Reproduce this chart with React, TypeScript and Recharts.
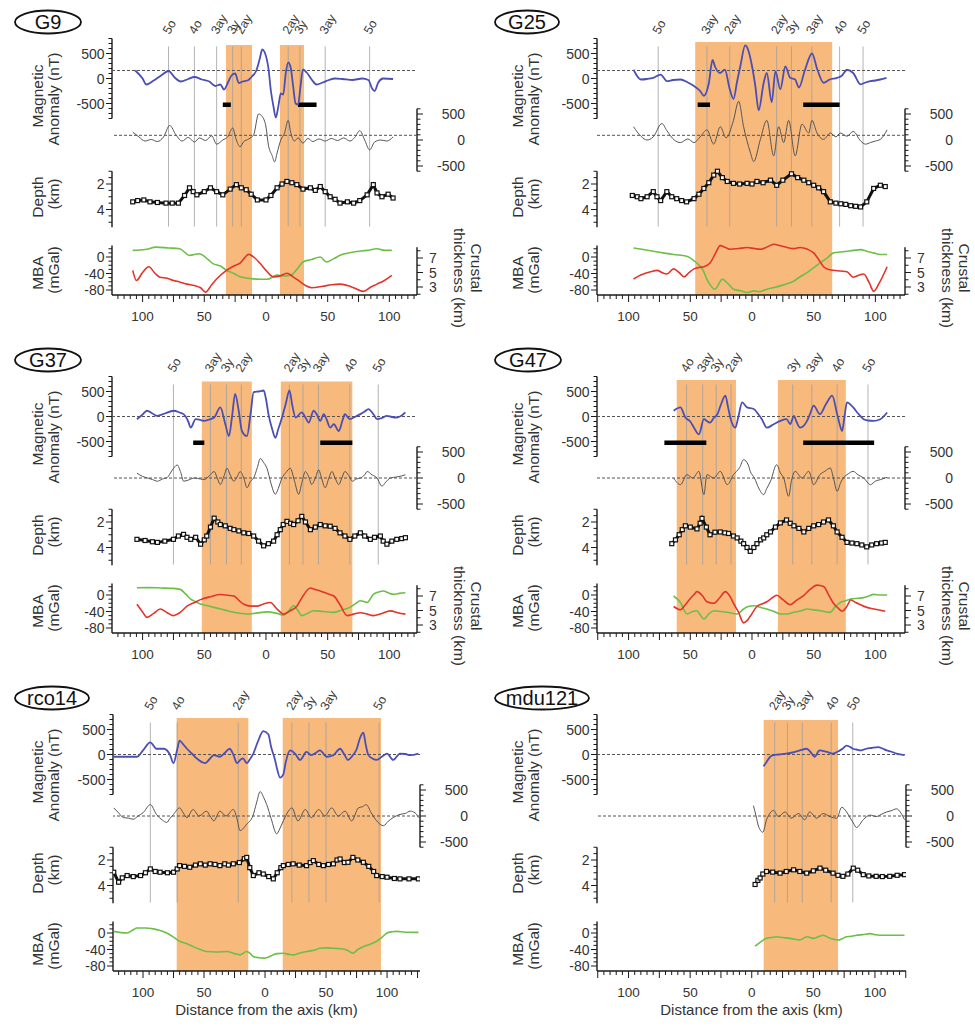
import React from 'react';
import { ComposedChart, Line, XAxis, YAxis, ReferenceLine, ReferenceArea } from 'recharts';

type Pair = [number, number];
type Iso = [string, number];

// ---------------- G9 ----------------
const g9Mag: Pair[] = [[-106,160],[-100,0],[-97,-120],[-91,-40],[-85,60],[-79,150],[-74,20],[-69,-60],[-63,-10],[-58,30],[-52,-20],[-46,-60],[-41,-150],[-37,-120],[-34,-220],[-31,-90],[-28,60],[-25,100],[-22,-90],[-19,-60],[-15,-40],[-11,50],[-8,150],[-5,400],[-3,580],[-1,520],[2,200],[4,-250],[6,-550],[8,-780],[10,-560],[12,-300],[14,-320],[16,100],[18,320],[20,220],[22,-150],[24,-500],[26,-520],[28,-150],[30,180],[33,120],[37,-20],[41,-120],[46,-80],[51,-30],[56,0],[62,-10],[70,-30],[78,0],[83,-30],[86,-200],[88,-250],[91,-80],[95,0],[103,-10]];
const g9Mag2: Pair[] = [[-108,150],[-103,60],[-98,-20],[-93,10],[-88,-30],[-83,60],[-78,280],[-73,100],[-68,-20],[-63,50],[-58,-40],[-54,40],[-49,-10],[-44,80],[-40,-80],[-35,0],[-31,60],[-27,230],[-24,0],[-21,-130],[-18,-30],[-14,20],[-10,100],[-6,500],[-3,450],[0,250],[2,-100],[5,-300],[7,-420],[9,-250],[12,0],[15,130],[18,380],[20,150],[23,-20],[26,40],[30,-60],[34,30],[38,-30],[43,20],[48,-20],[53,30],[58,-10],[63,40],[68,-20],[72,50],[76,180],[80,0],[84,-190],[88,-40],[93,0],[98,-20],[103,60]];
const g9Depth: Pair[] = [[-108,3.4],[-104,3.3],[-99,3.25],[-94,3.4],[-88,3.45],[-81,3.5],[-76,3.5],[-71,3.5],[-66,2.9],[-62,2.3],[-59,2.6],[-56,2.85],[-50,2.6],[-45,2.3],[-40,2.6],[-35,2.85],[-29,2.4],[-24,2.05],[-20,2.3],[-16,2.45],[-12,2.8],[-7,3.25],[0,3.25],[4,2.9],[9,2.3],[13,2.0],[17,1.8],[21,1.9],[25,2.05],[30,2.4],[36,2.3],[40,2.5],[44,2.2],[48,2.6],[52,3.0],[56,3.2],[60,3.5],[66,3.4],[71,3.5],[76,3.3],[82,2.85],[87,2.05],[90,2.7],[94,3.0],[99,2.8],[103,3.1]];
const g9Mba: Pair[] = [[-108,16],[-98,18],[-89,24],[-79,22],[-70,20],[-62,4],[-54,8],[-47,-6],[-43,-16],[-37,-22],[-32,-32],[-26,-40],[-21,-48],[-13,-52],[-5,-54],[1,-54],[9,-44],[14,-46],[20,-44],[25,-30],[30,-12],[37,-6],[44,0],[49,-12],[55,-4],[60,4],[71,12],[82,16],[90,20],[96,16],[102,16]];
const g9Crust: Pair[] = [[-108,5.3],[-105,3.9],[-100,5.0],[-95,5.8],[-90,4.9],[-86,4.35],[-80,4.2],[-75,3.9],[-70,3.7],[-64,3.4],[-58,3.2],[-53,2.9],[-49,2.3],[-44,3.3],[-40,4.1],[-32,5.3],[-26,5.9],[-21,6.3],[-14,7.5],[-9,7.0],[-5,6.3],[0,5.3],[6,4.4],[11,4.5],[17,4.9],[22,4.4],[27,3.8],[32,3.2],[37,2.9],[46,3.1],[53,3.3],[60,3.4],[66,3.2],[71,2.9],[79,2.4],[85,3.0],[90,3.4],[96,3.9],[102,4.6]];
const g9Isochrons: Iso[] = [['5o',-79],['4o',-58],['3ay',-40],['3y',-27],['2ay',-20],['2ay',18],['3y',27.5],['3ay',48],['5o',84]];
const g9Orange: Pair[] = [[-32.4,-11.3],[11.3,30.8]];
const g9Bars: Pair[] = [[-35,-28.5],[26,41]];
const g9Baselines: Pair = [160, 90];

// ---------------- G25 ----------------
const g25Mag: Pair[] = [[-96,175],[-90,-20],[-85,-10],[-80,13],[-74,78],[-69,-52],[-64,-30],[-58,-20],[-52,-80],[-47,-150],[-42,-250],[-39,-345],[-35,-100],[-32,370],[-30,240],[-26,110],[-22,175],[-18,-215],[-15,-410],[-12,-50],[-9.5,240],[-5.5,663],[-3,565],[0,250],[2.7,-150],[5.4,-637],[9.5,-85],[12,110],[16,-475],[19,143],[23,-215],[27,240],[31,13],[35,-20],[38,-180],[43,175],[48.6,500],[53,175],[58,-85],[63,-20],[69,13],[73,60],[77,175],[82,110],[88,-117],[92,-80],[96,-52],[100,-40],[104,-20],[109,13]];
const g25Mag2: Pair[] = [[-96,256],[-90,73],[-85,0],[-80,60],[-73,317],[-69,180],[-63,0],[-58,-49],[-52,20],[-47,-49],[-42,60],[-36.5,195],[-31,-79],[-25.7,256],[-21,40],[-15,378],[-10.8,744],[-6.8,256],[-1.4,-232],[1.4,-415],[6.8,12],[12,378],[17.6,-305],[21.6,256],[25.7,-49],[29.7,378],[35,-305],[40.5,305],[46,134],[48.6,378],[52.7,134],[58,12],[63.5,134],[68,60],[71.6,134],[77,73],[82,165],[88,-18],[92,-80],[96,-49],[100,-20],[104,12],[109.5,195]];
const g25Depth: Pair[] = [[-97,2.9],[-93,3.0],[-90,3.15],[-85,3.0],[-80,2.6],[-77,3.0],[-74,3.3],[-69,2.6],[-65,3.0],[-61,3.15],[-57,3.3],[-53,3.4],[-47,3.15],[-43,2.8],[-39,2.35],[-35,1.9],[-31,1.3],[-28,1.0],[-24,1.5],[-20,1.8],[-15,1.95],[-10,2.0],[-4,1.95],[0,2.0],[4,1.8],[9,1.9],[15,1.7],[20,2.1],[25,1.7],[32,1.2],[37,1.5],[42,1.7],[46,1.9],[50,2.1],[54,2.3],[58,2.6],[63.5,3.4],[68,3.5],[72,3.55],[76,3.6],[80,3.7],[84,3.75],[88,3.8],[93,3.4],[98.6,2.35],[104,2.1],[108,2.2]];
const g25Mba: Pair[] = [[-96,22],[-88,18],[-80,14],[-72,10],[-63.5,6],[-53,2],[-45,-14],[-40,-30],[-36.5,-54],[-30,-78],[-24,-54],[-19,-66],[-15,-78],[-9,-82],[-4,-86],[1.4,-82],[6,-84],[12,-78],[18,-74],[23,-70],[29,-64],[34,-58],[39,-48],[44.6,-38],[50,-26],[55.4,-14],[61,-2],[66,10],[72,12],[77,14],[82,16],[88,18],[93,14],[98.6,10],[104,6],[109.5,6]];
const g25Crust: Pair[] = [[-96,4.1],[-92,4.5],[-88,4.8],[-82,5.1],[-77,5.3],[-73,5.0],[-69,4.8],[-63.5,5.5],[-59,5.0],[-55,4.4],[-51,5.0],[-47,5.5],[-43,5.7],[-39,5.8],[-34,6.3],[-30,7.5],[-25.7,8.7],[-21,8.4],[-17.6,8.2],[-11,8.3],[-4,8.45],[2,8.3],[6.8,8.2],[12,8.5],[17.6,8.9],[23,8.7],[28.4,8.45],[34,8.3],[39,8.45],[45,8.2],[50,7.7],[54,6.8],[58,5.8],[62,5.4],[66,5.3],[72,5.2],[77,5.1],[82,4.35],[86,4.6],[90.5,4.8],[95,3.6],[98.6,2.4],[103,3.5],[109.5,5.8]];
const g25Isochrons: Iso[] = [['5o',-76],['3ay',-36.5],['2ay',-18],['2ay',20],['3y',32],['3ay',48.5],['4o',71],['5o',90]];
const g25Orange: Pair[] = [[-46,65]];
const g25Bars: Pair[] = [[-44,-34],[41.5,71]];
const g25Baselines: Pair = [160, 90];

// ---------------- G37 ----------------
const g37Mag: Pair[] = [[-104.6,-54],[-100,40],[-96.5,115],[-92,60],[-88,14],[-82,60],[-75,115],[-70,80],[-66.8,47],[-63,-100],[-61,-223],[-57,-54],[-53,-70],[-50.5,-88],[-46,-60],[-42,-20],[-37,182],[-33,-150],[-30,-392],[-27.5,0],[-25,453],[-22,100],[-19.5,-290],[-15.4,-392],[-12.5,50],[-10,487],[-6,500],[-1.9,520],[0,350],[2,47],[5,-250],[7.6,-426],[10,-250],[13,-20],[16,250],[19,520],[21.5,200],[24,-20],[29,81],[32,-20],[34.6,-122],[38.6,115],[41,50],[44,-88],[46.8,47],[49,-50],[52,-223],[55,-155],[59,-290],[62,-80],[64,47],[68,-54],[72,-10],[76.5,47],[80,100],[83,149],[87,50],[90,-54],[94,-30],[98,14],[102,-10],[106,-20],[110,20],[113,81]];
const g37Mag2: Pair[] = [[-104.6,94],[-100,30],[-96,0],[-92,-30],[-88,-62],[-84,-20],[-80,10],[-76,150],[-72,250],[-69,100],[-66.8,-62],[-63,-40],[-58,0],[-53,-20],[-50,-30],[-46,40],[-42,125],[-39.5,0],[-37,-125],[-34,40],[-31.6,187],[-29,60],[-26,-62],[-23,40],[-21,125],[-18,0],[-15.4,-187],[-12.5,-60],[-10,0],[-7,200],[-4.6,375],[-2,300],[0.8,187],[4,-100],[7.6,-312],[10,-200],[13,0],[16,100],[19.7,187],[23,-50],[26.5,-312],[29,-100],[31.9,125],[35,0],[37,-125],[40,0],[42.7,156],[45,0],[48,-187],[51,0],[53.5,125],[56,0],[59,-125],[61.5,0],[64,125],[67,50],[70,-62],[73,-20],[76.5,0],[80,60],[82,125],[86,60],[90,0],[94,-156],[97,-80],[100.8,0],[106,20],[110,40],[113,62]];
const g37Depth: Pair[] = [[-104.6,3.36],[-98,3.45],[-92,3.55],[-88,3.6],[-82,3.5],[-75,3.36],[-71,3.1],[-66.8,2.97],[-64,3.2],[-61,3.36],[-57,3.2],[-53,3.74],[-50,3.4],[-48,3.1],[-45,2.4],[-42,1.7],[-39,2.0],[-37,2.2],[-33,2.3],[-29,2.5],[-26,2.6],[-22,2.7],[-18,2.85],[-14,2.9],[-10,3.1],[-6,3.5],[-1.9,3.87],[2,3.7],[6.2,3.5],[9,3.0],[11.6,2.6],[14,2.2],[17,1.95],[20,2.1],[22.4,2.2],[26,1.9],[29,1.56],[32,2.0],[36,2.6],[40,2.4],[44,2.2],[48,2.3],[52,2.33],[56,2.5],[60,2.85],[64,3.1],[68,3.36],[72,3.1],[76.5,2.85],[80,3.1],[84.6,3.36],[88,3.2],[92.7,3.1],[95,3.5],[98,3.74],[102,3.5],[106,3.36],[110,3.3],[113,3.23]];
const g37Mba: Pair[] = [[-104.6,17.6],[-95,18],[-85,17],[-75,16],[-69.5,13.6],[-65,2],[-61,-10],[-57,-16],[-53,-22],[-47,-26],[-42,-30],[-34,-36],[-26,-42],[-20,-45],[-15.4,-46],[-8,-44],[0.8,-41],[8,-44],[14.3,-49],[18,-40],[22.4,-26],[26,-38],[29,-50],[34,-44],[38.6,-38],[46,-40],[55,-42],[62,-36],[68,-30],[72,-22],[76.5,-14],[82,-18],[87,1.6],[92,8],[95,9.6],[100,4],[103.5,1.6],[108,4],[113,5.6]];
const g37Crust: Pair[] = [[-104.6,5.86],[-100,4.8],[-96.5,4.05],[-91,4.6],[-85.7,5.2],[-80,4.7],[-75,4.3],[-69,4.8],[-64,5.6],[-58,6.1],[-53,6.5],[-45,6.9],[-37,7.2],[-31,7.1],[-26,7.0],[-22,6.4],[-18,5.86],[-12,5.6],[-7.3,5.6],[-2,5.9],[3.5,6.1],[9,5.2],[14.3,4.5],[19,4.9],[25,5.6],[30,7.0],[36,8.1],[40,7.9],[44,7.7],[50,7.3],[55,7.0],[60,5.8],[65.7,4.3],[71,4.5],[76.5,4.7],[82,4.5],[87,4.3],[94,4.6],[100.8,4.95],[107,4.7],[113,4.5]];
const g37Isochrons: Iso[] = [['5o',-75],['3ay',-45],['3y',-32],['2ay',-20],['2ay',19],['3y',30],['3ay',42.5],['4o',68],['5o',91]];
const g37Orange: Pair[] = [[-52,-11.5],[12,70]];
const g37Bars: Pair[] = [[-59,-50],[44,70]];
const g37Baselines: Pair = [0, 0];

// ---------------- G47 ----------------
const g47Mag: Pair[] = [[-63.5,115],[-58,182],[-54,-20],[-50,-100],[-47,-223],[-43,-358],[-39,-54],[-36,-100],[-34,-122],[-31,-30],[-28,47],[-25,250],[-21.6,419],[-19.5,200],[-17.6,-20],[-13.5,-223],[-11,0],[-8,284],[-4,182],[1.4,149],[5,50],[8,-54],[12,-223],[17.6,-155],[23,-88],[28,-54],[31,-150],[34,14],[36,-100],[39,-223],[44.6,-88],[47,50],[50,216],[55,47],[60,250],[65,419],[69,47],[71,-150],[73,-290],[75,0],[77,284],[82,182],[86,60],[90.5,-54],[94,-80],[98.6,-88],[104,-54],[109.5,81]];
const g47Mag2: Pair[] = [[-63.5,0],[-58,-128],[-52.7,64],[-48,0],[-43,128],[-39,-320],[-36.5,64],[-31,0],[-25.7,128],[-20,-128],[-15,64],[-10,200],[-6.8,352],[-3,250],[-1.4,128],[2,0],[5.4,-192],[9.5,-320],[12,-200],[15,-64],[20,256],[23,100],[25.7,0],[29.7,-352],[32,-50],[35,128],[40.5,0],[46,128],[50,-128],[55,64],[59,128],[63.5,192],[66,0],[69,-256],[72,-80],[74,0],[78,80],[82,128],[86,60],[90.5,0],[96,-128],[100,-60],[104,-32],[109.5,13]];
const g47Depth: Pair[] = [[-65,3.7],[-62,3.4],[-59,3.0],[-56.5,2.6],[-54,2.3],[-50,2.4],[-44.6,2.54],[-42,2.1],[-40.5,1.72],[-37,2.4],[-34,3.0],[-30,2.8],[-25.7,2.78],[-22,2.85],[-19,2.9],[-15,3.1],[-12,3.25],[-9,3.5],[-6.8,3.7],[-4,4.0],[-1.4,4.3],[1.5,4.0],[4,3.7],[7,3.4],[9.5,3.25],[12,3.0],[15,2.78],[19,2.4],[23,2.07],[28,1.84],[31,2.1],[34,2.3],[38,2.5],[42,2.78],[46,2.5],[50,2.3],[54,2.2],[58,2.0],[62,1.84],[66,2.3],[69,2.78],[73,3.2],[77,3.6],[81,3.65],[85,3.7],[89,3.8],[93,3.95],[97,3.8],[101,3.7],[105,3.65],[108,3.6]];
const g47Mba: Pair[] = [[-63.5,-2.4],[-58,-18],[-52.7,-46],[-48,-40],[-44.6,-38],[-42,-48],[-39,-58],[-35,-46],[-31,-38],[-25,-40],[-20,-42],[-12,-46],[-6.8,-34],[-3,-28],[1.4,-26],[7,-30],[12,-34],[18,-40],[23,-46],[28,-46],[34,-42],[40,-38],[44.6,-34],[50,-36],[55.4,-38],[63.5,-42],[67,-30],[71.6,-18],[76,-14],[80,-10],[86,-8],[90.5,-6.4],[95,-2],[98.6,1.6],[104,0],[109.5,0]];
const g47Crust: Pair[] = [[-63.5,5.55],[-58,5.1],[-54,5.8],[-51,6.45],[-47,7.2],[-44.6,7.6],[-40,7.0],[-36.5,6.2],[-31,6.0],[-26,6.8],[-21.6,7.6],[-18,7.0],[-15,6.0],[-11,4.8],[-6.8,3.3],[-4,3.6],[-1.4,4.2],[4,5.55],[8,5.9],[12,6.2],[16,6.7],[20,7.1],[25,6.5],[31,5.8],[36,6.4],[42,7.1],[47,7.9],[52.7,8.5],[58,8.3],[62,7.2],[66,6.0],[70,5.3],[73,4.9],[77,5.6],[80,6.45],[84,6.1],[88,5.8],[92,5.5],[96,5.3],[102,5.1],[108,4.9]];
const g47Isochrons: Iso[] = [['4o',-53],['3ay',-40],['3y',-29],['2ay',-17],['3y',33],['3ay',48.5],['4o',69],['5o',94]];
const g47Orange: Pair[] = [[-61,-13],[21,76]];
const g47Bars: Pair[] = [[-71,-37],[41.5,99]];
const g47Baselines: Pair = [0, 0];

// ---------------- rco14 ----------------
const rco14Mag: Pair[] = [[-124,-45],[-115,-45],[-105,-45],[-100,83],[-94,244],[-89,115],[-83,115],[-78,0],[-75,-173],[-72,100],[-70,276],[-67,200],[-64,115],[-60,20],[-56,-77],[-49,-173],[-45,-80],[-42,-13],[-37,-45],[-33,30],[-29,115],[-26,0],[-23,-173],[-20,-100],[-18,-77],[-15,-173],[-12,-80],[-9.6,19],[-6,250],[-1.4,468],[2.7,404],[5,150],[8.2,-109],[10,-300],[12.3,-461],[15,-397],[17,-150],[20.5,83],[24.6,19],[28.7,-109],[34,51],[38,-13],[42,40],[45,83],[50.5,-45],[56,-13],[61.5,115],[65,0],[68,-109],[72,-13],[75,100],[78,340],[80.6,436],[82.5,200],[84.7,-13],[88,-80],[91.5,-109],[96,-40],[100,19],[105,-109],[110.6,19],[115,10],[119,-13],[125.7,19]];
const rco14Mag2: Pair[] = [[-124,156],[-120,60],[-116,-31],[-112,-40],[-108,-62],[-104,0],[-100,62],[-94,219],[-89,31],[-84,-80],[-80.6,-125],[-78,-50],[-75,31],[-70,156],[-67,60],[-64,-31],[-59,125],[-54,0],[-48,94],[-45,0],[-42,-94],[-37,94],[-32,0],[-26,125],[-23,-50],[-20.5,-281],[-15,-156],[-10,0],[-7,250],[-4,469],[-1,350],[1.4,219],[5,-50],[9.6,-344],[12,-250],[15,-94],[18,50],[22,156],[27,-94],[33,125],[38,-31],[44,125],[49,0],[54.6,156],[60,0],[65.6,94],[71,-94],[76.5,156],[80,180],[83,219],[87,60],[91.5,-94],[97,-187],[101,-100],[105,-31],[110.6,31],[115,50],[119,94],[123,60],[125.7,-31]];
const rco14Depth: Pair[] = [[-124,2.96],[-120,3.74],[-117,3.4],[-113,3.22],[-108,3.3],[-102,3.22],[-98,3.0],[-94,2.7],[-90,2.9],[-86,2.96],[-80,3.0],[-75,2.96],[-72,2.7],[-70,2.44],[-66,2.5],[-61.7,2.57],[-57,2.4],[-53,2.3],[-49,2.4],[-45,2.3],[-41,2.35],[-37,2.44],[-33,2.3],[-30,2.4],[-26,2.3],[-21,2.2],[-17,1.9],[-15,1.8],[-12.5,2.6],[-9.6,3.22],[-5,3.0],[-1.4,3.1],[3,3.3],[6.8,3.48],[10,3.0],[13,2.6],[15,2.44],[19,2.35],[23,2.3],[28,2.4],[34,2.44],[37,2.2],[39.6,2.05],[44,2.35],[47.8,2.44],[52,2.35],[56,2.3],[59,2.0],[61.5,1.92],[65,2.2],[68,2.18],[72,1.8],[76,2.0],[80.6,2.18],[85,2.5],[89,2.9],[91.5,3.22],[96,3.3],[100,3.35],[106,3.45],[110.6,3.48],[118,3.48],[125.7,3.48]];
const rco14Mba: Pair[] = [[-124,4],[-118,1],[-113,0],[-108,8],[-105,12],[-98,12],[-91.5,10],[-86,6],[-80.6,0],[-75,-10],[-70,-20],[-64,-26],[-59,-33],[-53,-40],[-48,-45],[-40,-46],[-31,-45],[-25,-50],[-20.5,-53],[-15,-45],[-12,-50],[-9.6,-57],[-5,-60],[-1.4,-61],[3,-58],[6.8,-53],[10,-50],[15,-49],[20,-52],[23,-53],[28,-49],[34,-45],[40,-42],[45,-37],[50,-36],[56,-37],[62,-38],[67,-41],[72,-49],[76,-40],[80.6,-33],[86,-27],[91.5,-20],[96,-10],[100,0],[104,3],[108,4],[115,2],[125.7,1.6]];
const rco14Isochrons: Iso[] = [['5o',-94],['4o',-72],['2ay',-22],['2ay',22],['3y',36],['3ay',50],['5o',93.5]];
const rco14Orange: Pair[] = [[-72.4,-13.7],[14.5,95]];
const rco14Bars: Pair[] = [];
const rco14Baselines: Pair = [0, 0];

// ---------------- mdu121 ----------------
const mdu121Mag: Pair[] = [[9.5,-237],[12,-150],[15,-45],[17.6,-13],[22,0],[28,19],[33,40],[39,83],[44.6,115],[48,40],[51,-45],[55,83],[61,51],[66,19],[71.6,83],[74,120],[77,179],[80,150],[82,115],[85,100],[88,83],[91,100],[93,115],[97,130],[102.7,147],[106,120],[109.5,83],[113,60],[117.6,19],[124,-13]];
const mdu121Mag2: Pair[] = [[1.4,198],[3.5,0],[5.4,-192],[9,-312],[12,-72],[15,60],[17.6,108],[21.6,-12],[27,78],[32,-42],[38,48],[43,-72],[47,78],[52.7,-42],[58,48],[63.5,-12],[69,-42],[73,168],[77,78],[80,-40],[82.4,-132],[85,-222],[90.5,-72],[96,18],[101,-12],[105,30],[109.5,78],[113,100],[117.6,138],[121,60],[124,-72]];
const mdu121Depth: Pair[] = [[2.7,3.92],[5,3.6],[6.8,3.41],[9,3.1],[12,2.9],[17,2.95],[23,3.03],[28,2.9],[34,2.77],[39,2.9],[44.6,3.03],[50,2.85],[55.4,2.64],[60,2.8],[66,3.03],[70,3.2],[74,3.28],[78,3.1],[82.4,2.64],[86,2.8],[90.5,3.15],[95,3.25],[101,3.28],[106,3.3],[112,3.28],[118,3.2],[124,3.15]];
const mdu121Mba: Pair[] = [[2.7,-32],[7,-22],[12,-13],[16,-11],[20,-9],[25,-11],[31,-13],[35,-15],[39,-17],[44.6,-9],[50,-13],[54,-9],[58,-5.4],[63.5,-13],[70,-17],[74,-13],[77,-9],[81,-8],[85,-5.4],[90,-4],[96,-1.5],[100,-4],[104,-5.4],[112,-5.4],[124,-5.4]];
const mdu121Isochrons: Iso[] = [['2ay',18.6],['3y',29],['3ay',41],['4o',64.5],['5o',82]];
const mdu121Orange: Pair[] = [[9.7,70]];
const mdu121Bars: Pair[] = [];
const mdu121Baselines: Pair = [0, 0];

// ---------------- axis tick labels ----------------
const magTickLabels = [-500, 0, 500];
const magTicks = [-800, -700, -600, -500, -400, -300, -200, -100, 0, 100, 200, 300, 400, 500, 600, 700, 800];
const mag2Ticks = [-600, -500, -400, -300, -200, -100, 0, 100, 200, 300, 400, 500, 600];
const depthTickLabels = [2, 4];
const depthTicks = [1, 1.5, 2, 2.5, 3, 3.5, 4, 4.5, 5];
const mbaTickLabels = [-80, -40, 0];
const mbaTicks = [-80, -70, -60, -50, -40, -30, -20, -10, 0, 10, 20];
const crustTickLabels = [3, 5, 7];
const crustTicks = [2, 3, 4, 5, 6, 7, 8];
const distanceTickLabels = [-100, -50, 0, 50, 100];
const distanceTicks: number[] = [];
for (let t = -125; t <= 125; t += 5) distanceTicks.push(t);

// ---------------- geometry ----------------
const FONT = '"Liberation Sans", Arial, Helvetica, sans-serif';
const TOP = 37;
const BOTTOM = 295;
const AXW = 0.01;
const domainFor = (vRef: number, pRef: number, pxPerUnit: number): [number, number] =>
  [vRef - (BOTTOM - pRef) / pxPerUnit, vRef + (pRef - TOP) / pxPerUnit];
const MAG_DOMAIN = domainFor(0, 78.5, 0.05);
const MAG2_DOMAIN = domainFor(0, 140, 0.052);
const MBA_DOMAIN = domainFor(0, 257, 33 / 80);
const CRUST_DOMAIN = domainFor(7, 258, 7.25);
const DEPTH_DOMAIN: [number, number] = [2 - (184 - TOP) / 12.75, 2 + (BOTTOM - 184) / 12.75];

const pts = (a: Pair[]) => a.map(([x, v]) => ({ x, v }));

const makeYTick = (side: 'left' | 'right', labels: number[], labelOffset: number, anchor: 'start' | 'end') => (p: any) => {
  const { x, y, payload } = p;
  const v = payload.value;
  const major = labels.some((l) => Math.abs(l - v) < 1e-6);
  const len = major ? 6 : 3.5;
  const dir = side === 'left' ? -1 : 1;
  return (
    <g>
      <line x1={x} x2={x + dir * len} y1={y} y2={y} stroke="#1a1a1a" strokeWidth={1} />
      {major && (
        <text x={x + dir * labelOffset} y={y} dy="0.36em" textAnchor={anchor}
          fontSize={14} fill="#333" fontFamily={FONT}>{v}</text>
      )}
    </g>
  );
};

const renderXTick = (p: any) => {
  const { x, y, payload } = p;
  const v = payload.value;
  const major = v % 25 === 0;
  const lab = distanceTickLabels.indexOf(v) >= 0;
  return (
    <g>
      <line x1={x} x2={x} y1={y} y2={y + (major ? 7 : 4)} stroke="#1a1a1a" strokeWidth={1} />
      {lab && (
        <text x={x} y={y + 25.5} textAnchor="middle" fontSize={13.5} fill="#333" fontFamily={FONT}>{Math.abs(v)}</text>
      )}
    </g>
  );
};

const squareDot = (p: any) => (
  <rect key={`sq${p.index}`} x={p.cx - 2} y={p.cy - 2} width={4} height={4} fill="#fff" stroke="#111" strokeWidth={1.2} />
);

const vText = (x: number, y: number, rot: number, s: string) => (
  <text x={x} y={y} transform={`rotate(${rot} ${x} ${y})`} textAnchor="middle" fontSize={15.5} fill="#333" fontFamily={FONT}>{s}</text>
);

type PanelCfg = {
  name: string; left: number; top: number; width: number; height: number; ml: number; plotW: number;
  xDomain: [number, number]; ellRx: number; mag: Pair[]; mag2: Pair[]; depth: Pair[]; mba: Pair[]; crust: Pair[] | null;
  iso: Iso[]; orange: Pair[]; bars: Pair[]; orangeTop: number; base: Pair; distance: boolean;
};

const panels: PanelCfg[] = [
  { name: 'G9', left: 0, top: 0, width: 495, height: 338, ml: 112, plotW: 305, xDomain: [-124.8, 122.4], ellRx: 33,
    mag: g9Mag, mag2: g9Mag2, depth: g9Depth, mba: g9Mba, crust: g9Crust, iso: g9Isochrons, orange: g9Orange, bars: g9Bars, orangeTop: 670, base: g9Baselines, distance: false },
  { name: 'G25', left: 480, top: 0, width: 495, height: 338, ml: 117, plotW: 308, xDomain: [-125.6, 124], ellRx: 32,
    mag: g25Mag, mag2: g25Mag2, depth: g25Depth, mba: g25Mba, crust: g25Crust, iso: g25Isochrons, orange: g25Orange, bars: g25Bars, orangeTop: 730, base: g25Baselines, distance: false },
  { name: 'G37', left: 0, top: 338, width: 495, height: 338, ml: 112, plotW: 305, xDomain: [-124.8, 122.4], ellRx: 33,
    mag: g37Mag, mag2: g37Mag2, depth: g37Depth, mba: g37Mba, crust: g37Crust, iso: g37Isochrons, orange: g37Orange, bars: g37Bars, orangeTop: 700, base: g37Baselines, distance: false },
  { name: 'G47', left: 480, top: 338, width: 495, height: 338, ml: 117, plotW: 308, xDomain: [-125.6, 124], ellRx: 33,
    mag: g47Mag, mag2: g47Mag2, depth: g47Depth, mba: g47Mba, crust: g47Crust, iso: g47Isochrons, orange: g47Orange, bars: g47Bars, orangeTop: 730, base: g47Baselines, distance: false },
  { name: 'rco14', left: 0, top: 676, width: 495, height: 351, ml: 113, plotW: 307, xDomain: [-124.6, 127], ellRx: 37,
    mag: rco14Mag, mag2: rco14Mag2, depth: rco14Depth, mba: rco14Mba, crust: null, iso: rco14Isochrons, orange: rco14Orange, bars: rco14Bars, orangeTop: 730, base: rco14Baselines, distance: true },
  { name: 'mdu121', left: 480, top: 676, width: 495, height: 351, ml: 117, plotW: 309, xDomain: [-125.6, 125.2], ellRx: 47,
    mag: mdu121Mag, mag2: mdu121Mag2, depth: mdu121Depth, mba: mdu121Mba, crust: null, iso: mdu121Isochrons, orange: mdu121Orange, bars: mdu121Bars, orangeTop: 690, base: mdu121Baselines, distance: true },
];

function Panel({ cfg }: { cfg: PanelCfg }) {
  const { width, height, ml, plotW, xDomain } = cfg;
  const [x0, x1] = xDomain;
  const plotRight = ml + plotW;
  const nRight = cfg.crust ? 2 : 1;
  const ticksX = distanceTicks.filter((t) => t >= x0 - 1e-9 && t <= x1 + 1e-9);
  const axisStroke = '#1a1a1a';
  const isoTick = (p: any) => {
    const v = p.payload.value;
    const it = cfg.iso.find((i) => Math.abs(i[1] - v) < 1e-6);
    const tx = p.x + 1;
    const ty = 35;
    return (
      <text x={tx} y={ty} transform={`rotate(-60 ${tx} ${ty})`} fontSize={12.5} fill="#3a3a3a" fontFamily={FONT}>{it ? it[0] : ''}</text>
    );
  };
  const magLabel = () => (
    <g>
      <ellipse cx={15 + cfg.ellRx} cy={22} rx={cfg.ellRx} ry={11.5} fill="none" stroke="#111" strokeWidth={1.8} />
      <text x={15 + cfg.ellRx} y={29} textAnchor="middle" fontSize={20} fill="#111" fontFamily={FONT}>{cfg.name}</text>
      {vText(42.5, 96, -90, 'Magnetic')}
      {vText(59, 99, -90, 'Anomaly (nT)')}
    </g>
  );
  const depthLabel = () => (
    <g>
      {vText(42.5, 197, -90, 'Depth')}
      {vText(59, 194, -90, '(km)')}
    </g>
  );
  const mbaLabel = () => (
    <g>
      {vText(42.5, 273, -90, 'MBA')}
      {vText(59, 270, -90, '(mGal)')}
    </g>
  );
  const crustLabel = () => (
    <g>
      {vText(plotRight + 37, 278, 90, 'thickness (km)')}
      {vText(plotRight + 54, 268, 90, 'Crustal')}
    </g>
  );
  const distLabel = () => (
    <text x={ml + plotW / 2} y={339} textAnchor="middle" fontSize={15} fill="#333" fontFamily={FONT}>Distance from the axis (km)</text>
  );
  return (
    <div style={{ position: 'absolute', left: cfg.left, top: cfg.top, width, height }}>
      <ComposedChart width={width} height={height}
        margin={{ top: TOP - 10, left: ml - 3 * AXW, right: width - ml - plotW - nRight * AXW, bottom: height - BOTTOM - 30 }}>
        <XAxis xAxisId={0} type="number" dataKey="x" domain={xDomain} allowDataOverflow ticks={ticksX} interval={0}
          tickSize={0} tickMargin={0} height={30} axisLine={{ stroke: axisStroke, strokeWidth: 1.4 }} tickLine={false}
          tick={renderXTick} label={cfg.distance ? { content: distLabel } : undefined} />
        <XAxis xAxisId="top" orientation="top" type="number" dataKey="x" domain={xDomain} allowDataOverflow
          ticks={cfg.iso.map((i) => i[1])} interval={0} tickSize={0} tickMargin={0} height={10}
          axisLine={false} tickLine={false} tick={isoTick} />
        <YAxis yAxisId="mag" orientation="left" type="number" width={AXW} domain={MAG_DOMAIN} allowDataOverflow
          ticks={magTicks} interval={0} tickSize={0} tickMargin={0} axisLine={false} tickLine={false}
          tick={makeYTick('left', magTickLabels, 7.5, 'end')} label={{ content: magLabel }} />
        <YAxis yAxisId="depth" orientation="left" type="number" width={AXW} domain={DEPTH_DOMAIN} reversed allowDataOverflow
          ticks={depthTicks} interval={0} tickSize={0} tickMargin={0} axisLine={false} tickLine={false}
          tick={makeYTick('left', depthTickLabels, 7.5, 'end')} label={{ content: depthLabel }} />
        <YAxis yAxisId="mba" orientation="left" type="number" width={AXW} domain={MBA_DOMAIN} allowDataOverflow
          ticks={mbaTicks} interval={0} tickSize={0} tickMargin={0} axisLine={false} tickLine={false}
          tick={makeYTick('left', mbaTickLabels, 7.5, 'end')} label={{ content: mbaLabel }} />
        <YAxis yAxisId="mag2" orientation="right" type="number" width={AXW} domain={MAG2_DOMAIN} allowDataOverflow
          ticks={mag2Ticks} interval={0} tickSize={0} tickMargin={0} axisLine={false} tickLine={false}
          tick={makeYTick('right', magTickLabels, 48, 'end')} />
        {cfg.crust && (
          <YAxis yAxisId="crust" orientation="right" type="number" width={AXW} domain={CRUST_DOMAIN} allowDataOverflow
            ticks={crustTicks} interval={0} tickSize={0} tickMargin={0} axisLine={false} tickLine={false}
            tick={makeYTick('right', crustTickLabels, 12, 'start')} label={{ content: crustLabel }} />
        )}

        {cfg.orange.map(([a, b], i) => (
          <ReferenceArea key={`or${i}`} yAxisId="mag" x1={a} x2={b} y1={MAG_DOMAIN[0]} y2={cfg.orangeTop}
            fill="#f7b97c" fillOpacity={1} stroke="none" ifOverflow="visible" />
        ))}
        {cfg.iso.map(([l, x], i) => (
          <ReferenceLine key={`iso${i}`} yAxisId="mag" segment={[{ x, y: 640 }, { x, y: -2960 }]}
            stroke="#a0a0a0" strokeWidth={0.8} ifOverflow="visible" />
        ))}

        <ReferenceLine yAxisId="mag" segment={[{ x: x0, y: -800 }, { x: x0, y: 800 }]} stroke={axisStroke} strokeWidth={1.4} ifOverflow="visible" />
        <ReferenceLine yAxisId="mag2" segment={[{ x: x1, y: -600 }, { x: x1, y: 600 }]} stroke={axisStroke} strokeWidth={1.4} ifOverflow="visible" />
        <ReferenceLine yAxisId="depth" segment={[{ x: x0, y: 1 }, { x: x0, y: 5.4 }]} stroke={axisStroke} strokeWidth={1.4} ifOverflow="visible" />
        <ReferenceLine yAxisId="mba" segment={[{ x: x0, y: MBA_DOMAIN[0] }, { x: x0, y: 28 }]} stroke={axisStroke} strokeWidth={1.4} ifOverflow="visible" />
        {cfg.crust && (
          <ReferenceLine yAxisId="crust" segment={[{ x: x1, y: CRUST_DOMAIN[0] }, { x: x1, y: 8.5 }]} stroke={axisStroke} strokeWidth={1.4} ifOverflow="visible" />
        )}

        <ReferenceLine yAxisId="mag" y={cfg.base[0]} stroke="#555" strokeDasharray="3 2" strokeWidth={1} />
        <ReferenceLine yAxisId="mag2" y={cfg.base[1]} stroke="#555" strokeDasharray="3 2" strokeWidth={1} />

        {cfg.bars.map(([a, b], i) => (
          <ReferenceLine key={`bar${i}`} yAxisId="mag" segment={[{ x: a, y: -525 }, { x: b, y: -525 }]}
            stroke="#000" strokeWidth={4.5} ifOverflow="visible" />
        ))}

        <Line yAxisId="mag2" data={pts(cfg.mag2)} dataKey="v" type="monotone" stroke="#555" strokeWidth={1}
          dot={false} activeDot={false} isAnimationActive={false} />
        <Line yAxisId="depth" data={pts(cfg.depth)} dataKey="v" type="linear" stroke="#111" strokeWidth={3}
          dot={squareDot} activeDot={false} isAnimationActive={false} />
        <Line yAxisId="mba" data={pts(cfg.mba)} dataKey="v" type="monotone" stroke="#6cbf47" strokeWidth={1.6}
          dot={false} activeDot={false} isAnimationActive={false} />
        {cfg.crust && (
          <Line yAxisId="crust" data={pts(cfg.crust)} dataKey="v" type="monotone" stroke="#e3342b" strokeWidth={1.6}
            dot={false} activeDot={false} isAnimationActive={false} />
        )}
        <Line yAxisId="mag" data={pts(cfg.mag)} dataKey="v" type="monotone" stroke="#4b4fb5" strokeWidth={1.8}
          dot={false} activeDot={false} isAnimationActive={false} />
      </ComposedChart>
    </div>
  );
}

export default function App() {
  return (
    <div style={{ position: 'absolute', left: 0, top: 0, width: 975, height: 1027, background: '#fff', overflow: 'hidden' }}>
      {panels.map((p) => <Panel key={p.name} cfg={p} />)}
    </div>
  );
}
